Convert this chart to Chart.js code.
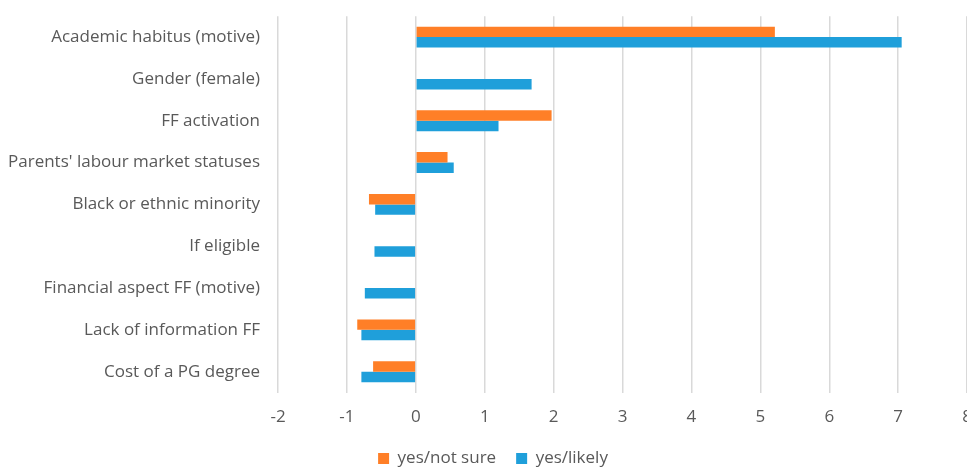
<!DOCTYPE html>
<html>
<head>
<meta charset="utf-8">
<script src="https://cdn.jsdelivr.net/npm/chart.js@4/dist/chart.umd.min.js"></script>
<style>
    html, body { margin: 0; padding: 0; background: #fff; overflow: hidden; height: 468px; }
    #wrap { width: 986px; height: 489px; margin-top: -12px; }
</style>
</head>
<body>
<div id="wrap"><canvas id="chart"></canvas></div>
<script>
// values
var categories = [
    "Academic habitus (motive)",
    "Gender (female)",
    "FF activation",
    "Parents' labour market statuses",
    "Black or ethnic minority",
    "If eligible",
    "Financial aspect FF (motive)",
    "Lack of information FF",
    "Cost of a PG degree"
];
var notSure = [5.21, null, 1.97, 0.46, -0.68, null, null, -0.85, -0.62];
var likely = [7.05, 1.68, 1.20, 0.55, -0.59, -0.60, -0.74, -0.79, -0.79];
var xTicks = [-2, -1, 0, 1, 2, 3, 4, 5, 6, 7, 8];

var textColor = "#595959";
var font = { family: "'Open Sans', sans-serif", size: 17 };

new Chart(document.getElementById("chart"), {
    type: "bar",
    data: {
        labels: categories,
        datasets: [
            { label: "yes/not sure", data: notSure, backgroundColor: "#ff7f27" },
            { label: "yes/likely", data: likely, backgroundColor: "#1f9fda" }
        ]
    },
    options: {
        indexAxis: "y",
        responsive: true,
        maintainAspectRatio: false,
        animation: false,
        categoryPercentage: 0.5,
        barPercentage: 1,
        layout: { padding: { top: -5, left: 0, right: 0, bottom: 0 } },
        scales: {
            x: {
                min: xTicks[0],
                max: xTicks[xTicks.length - 1],
                afterBuildTicks: function (axis) {
                    axis.ticks = xTicks.map(function (v) { return { value: v }; });
                },
                afterFit: function (axis) { axis.height -= 11; },
                grid: { color: "#d9d9d9", lineWidth: 1.5, drawTicks: false },
                border: { display: false },
                ticks: { color: textColor, font: font, padding: 14 }
            },
            y: {
                afterFit: function (axis) { axis.width = 278; },
                grid: { display: false, drawTicks: false },
                border: { display: false },
                ticks: { color: textColor, font: font, padding: 18 }
            }
        },
        plugins: {
            legend: {
                position: "bottom",
                labels: {
                    color: textColor,
                    font: font,
                    boxWidth: 11,
                    boxHeight: 11,
                    padding: 20
                }
            },
            tooltip: { enabled: false }
        }
    }
});
</script>
</body>
</html>
